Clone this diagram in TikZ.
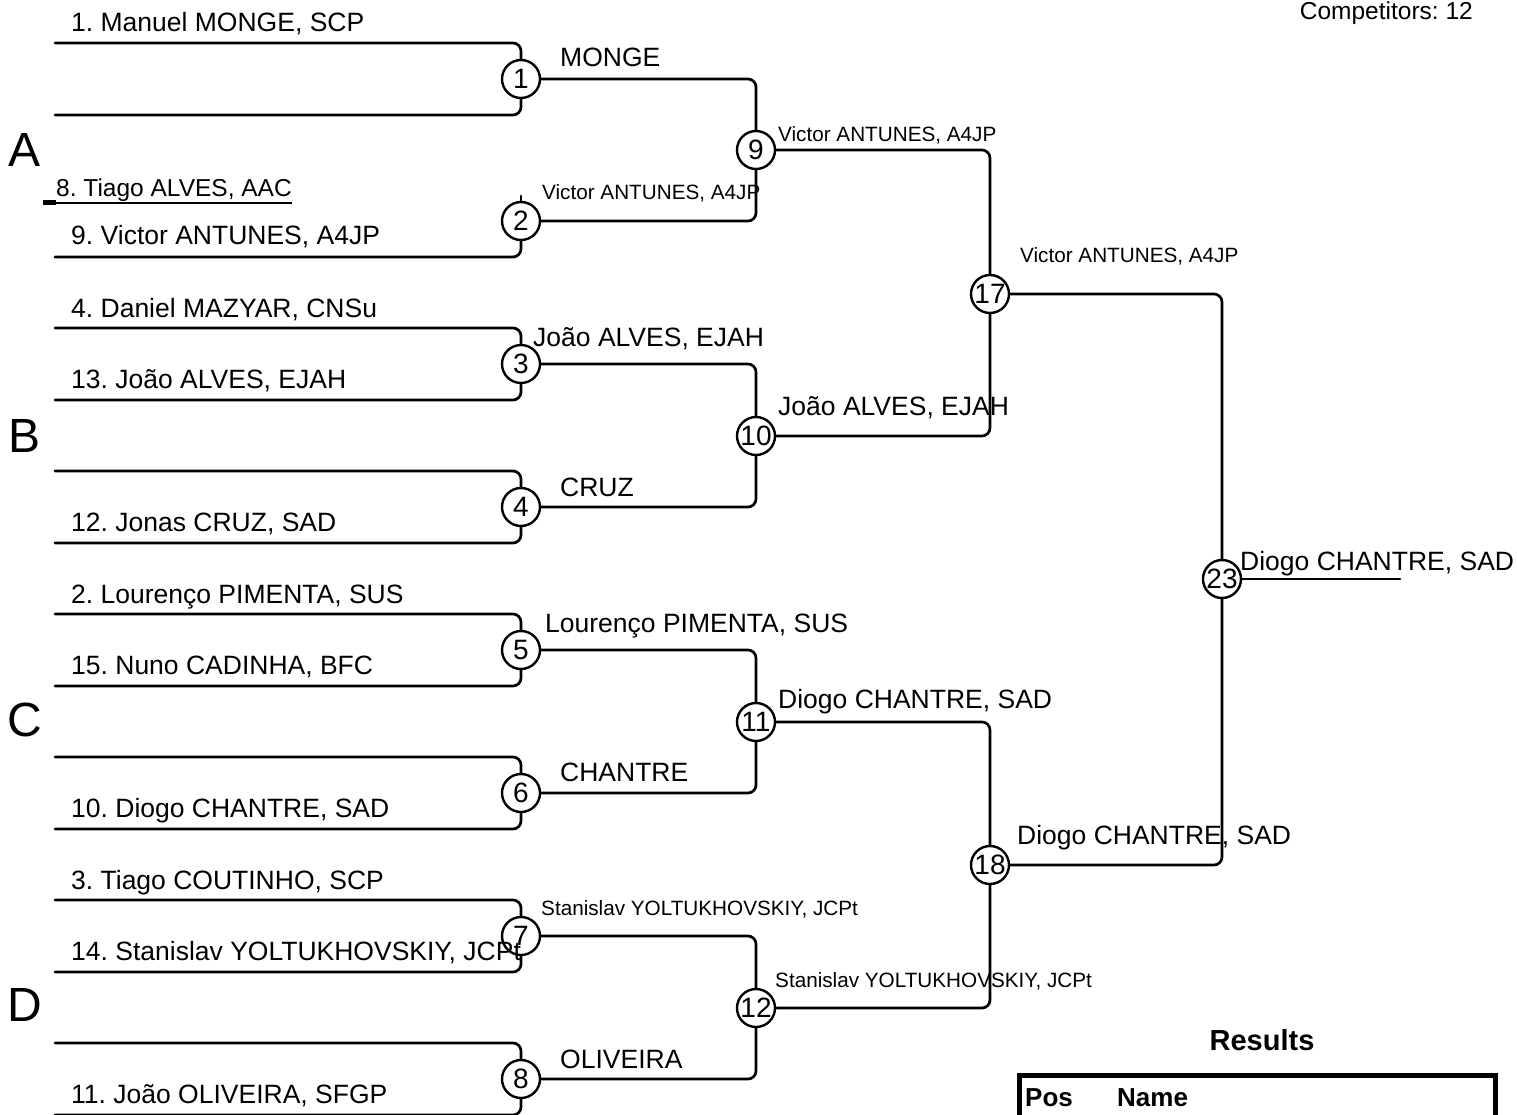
\documentclass[tikz,border=0pt]{standalone}
\usepackage{fontspec}
\setmainfont{Liberation Sans}
\usetikzlibrary{calc,positioning}

\begin{document}
\frenchspacing
\begin{tikzpicture}[x=1pt,y=-1pt,line cap=round,
    brk/.style={line width=2.7pt,rounded corners=8pt},
    bout/.style={draw,circle,line width=2.4pt,minimum size=38pt,inner sep=0pt,
                 font=\fontsize{28}{28}\selectfont},
    nm/.style={anchor=base west,inner sep=0pt,font=\fontsize{26.5}{30}\selectfont},
    nmsmall/.style={anchor=base west,inner sep=0pt,font=\fontsize{20.7}{24}\selectfont},
    pool/.style={inner sep=0pt,font=\fontsize{48}{50}\selectfont}]
  \useasboundingbox (0,0) rectangle (1517,1115);

  % first round
  \foreach \k/\yy in {1/79,2/221,3/364,4/507,5/650,6/793,7/936,8/1079}{
    \node[bout] (m\k) at (521,\yy) {\k};
    \coordinate (t\k) at (55,\yy-36);
    \coordinate (b\k) at (55,\yy+36);
  }
  \node[bout] (m9)  at (756,150)  {9};
  \node[bout] (m10) at (756,436)  {10};
  \node[bout] (m11) at (756,722)  {11};
  \node[bout] (m12) at (756,1008) {12};
  \node[bout] (m17) at (990,294)  {17};
  \node[bout] (m18) at (990,865)  {18};
  \node[bout] (m23) at (1222,579) {23};

  \foreach \k in {1,3,4,5,6,7,8} \draw[brk] (t\k) -| (m\k);
  \foreach \k in {1,...,8} \draw[brk] (b\k) -| (m\k);
  \coordinate (s2) at (521,196);
  \draw[brk] (s2) -- (m2);

  \draw[brk] (m1) -| (m9);   \draw[brk] (m2) -| (m9);
  \draw[brk] (m3) -| (m10);  \draw[brk] (m4) -| (m10);
  \draw[brk] (m5) -| (m11);  \draw[brk] (m6) -| (m11);
  \draw[brk] (m7) -| (m12);  \draw[brk] (m8) -| (m12);
  \draw[brk] (m9) -| (m17);  \draw[brk] (m10) -| (m17);
  \draw[brk] (m11) -| (m18); \draw[brk] (m12) -| (m18);
  \draw[brk] (m17) -| (m23); \draw[brk] (m18) -| (m23);
  \coordinate (fin) at (1400,579);
  \draw[brk] (m23) -- (fin);

  % entrants
  \node[nm] (n1)  at (71,32)   {1. Manuel MONGE, SCP};
  \node[nm,font=\fontsize{24.5}{30}\selectfont] (bye) at (56,197) {8. Tiago ALVES, AAC};
  \draw[line width=1.6pt,line cap=butt] ($(bye.base west)+(0,6)$) -- ($(bye.base east)+(0,6)$);
  \draw[line width=5pt,line cap=butt] ($(bye.base west)+(-13,6)$) -- ($(bye.base west)+(0,6)$);
  \node[nm] (n9)  at (71,245)  {9. Victor ANTUNES, A4JP};
  \node[nm] (n4)  at (71,317)  {4. Daniel MAZYAR, CNSu};
  \node[nm] (n13) at (71,388)  {13. João ALVES, EJAH};
  \node[nm] (n12) at (71,531)  {12. Jonas CRUZ, SAD};
  \node[nm] (n2)  at (71,603)  {2. Lourenço PIMENTA, SUS};
  \node[nm] (n15) at (71,674)  {15. Nuno CADINHA, BFC};
  \node[nm] (n10) at (71,817)  {10. Diogo CHANTRE, SAD};
  \node[nm] (n3)  at (71,889)  {3. Tiago COUTINHO, SCP};
  \node[nm] (n14) at (71,960)  {14. Stanislav YOLTUKHOVSKIY, JCPt};
  \node[nm] (n11) at (71,1103) {11. João OLIVEIRA, SFGP};

  % winners
  \node[nm]      (w1)  at (560,67)   {MONGE};
  \node[nmsmall] (w2)  at (542,200)  {Victor ANTUNES, A4JP};
  \node[nm]      (w3)  at (533,346)  {João ALVES, EJAH};
  \node[nm]      (w4)  at (560,496)  {CRUZ};
  \node[nm]      (w5)  at (545,632)  {Lourenço PIMENTA, SUS};
  \node[nm]      (w6)  at (560,781)  {CHANTRE};
  \node[nmsmall] (w7)  at (541,915)  {Stanislav YOLTUKHOVSKIY, JCPt};
  \node[nm]      (w8)  at (560,1068) {OLIVEIRA};
  \node[nmsmall] (w9)  at (778,142)  {Victor ANTUNES, A4JP};
  \node[nm]      (w10) at (778,415)  {João ALVES, EJAH};
  \node[nm]      (w11) at (778,708)  {Diogo CHANTRE, SAD};
  \node[nmsmall] (w12) at (775,987)  {Stanislav YOLTUKHOVSKIY, JCPt};
  \node[nmsmall] (w17) at (1020,262) {Victor ANTUNES, A4JP};
  \node[nm]      (w18) at (1017,844) {Diogo CHANTRE, SAD};
  \node[nm]      (w23) at (1240,570) {Diogo CHANTRE, SAD};

  % pools
  \node[pool] (pA) at (25,150)  {A};
  \node[pool] (pB) at (25,436)  {B};
  \node[pool] (pC) at (25,720)  {C};
  \node[pool] (pD) at (25,1005) {D};

  \node[anchor=base east,inner sep=0pt,font=\fontsize{24.5}{28}\selectfont] (comp) at (1473,20) {Competitors: 12};

  % results
  \node[anchor=base,inner sep=0pt,font=\bfseries\fontsize{29}{32}\selectfont] (res) at (1262,1050) {Results};
  \node[anchor=base west,inner sep=0pt,font=\bfseries\fontsize{26}{30}\selectfont] (pos)  at (1025,1106) {Pos};
  \node[anchor=base west,inner sep=0pt,font=\bfseries\fontsize{26}{30}\selectfont] (name) at (1117,1106) {Name};
  \draw[line width=5pt] (1019.5,1125) -- (1019.5,1075.5) -- (1495.5,1075.5) -- (1495.5,1125);
\end{tikzpicture}
\end{document}
